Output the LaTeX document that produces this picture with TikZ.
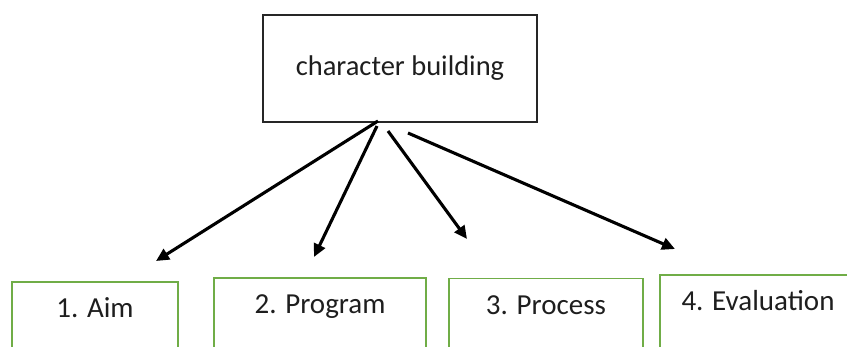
\documentclass[tikz,border=0pt]{standalone}
\usepackage{fontspec}
\setmainfont{Carlito}
\usetikzlibrary{arrows.meta}
\usepackage{color}
\definecolor{boxgreen}{RGB}{112,173,71}
\definecolor{boxline}{RGB}{38,38,38}
\definecolor{txt}{RGB}{30,30,30}

\begin{document}
\begin{tikzpicture}[x=1pt,y=-1pt,>={Triangle[length=13pt,width=12pt]},
    top/.style={draw=boxline,line width=1.5pt,inner sep=0pt,text=txt,
        minimum width=274pt,minimum height=107pt,font=\fontsize{28.5}{34}\selectfont},
    leaf/.style={draw=boxgreen,line width=1.8pt,anchor=north,inner xsep=0pt,inner ysep=0pt,
        text height=36pt,text depth=50pt,text=txt,font=\fontsize{29}{34}\selectfont},
    link/.style={->,line width=3.1pt,black}]
            \useasboundingbox (0,0) rectangle (847,346);

            \node[top] (cb) at (400,68.5) {character building};
            \node[leaf,minimum width=166pt] (aim) at (95,281) {1. Aim};
            \node[leaf,minimum width=212pt] (prog) at (320,277) {2. Program};
            \node[leaf,minimum width=194pt] (proc) at (546,277.5) {3. Process};
            \node[leaf,minimum width=196pt] (eval) at (758,274) {4. Evaluation};

            \coordinate (s1) at (378,121);
            \coordinate (s2) at (377,126);
            \coordinate (s3) at (388,131);
            \coordinate (s4) at (408,133);
            \coordinate (e1) at (156,261);
            \coordinate (e2) at (314,257);
            \coordinate (e3) at (467,239);
            \coordinate (e4) at (675,249);

            \path
            (s1) edge [link] (e1)
            (s2) edge [link] (e2)
            (s3) edge [link] (e3)
            (s4) edge [link] (e4)
            ;
        \end{tikzpicture}
\end{document}
